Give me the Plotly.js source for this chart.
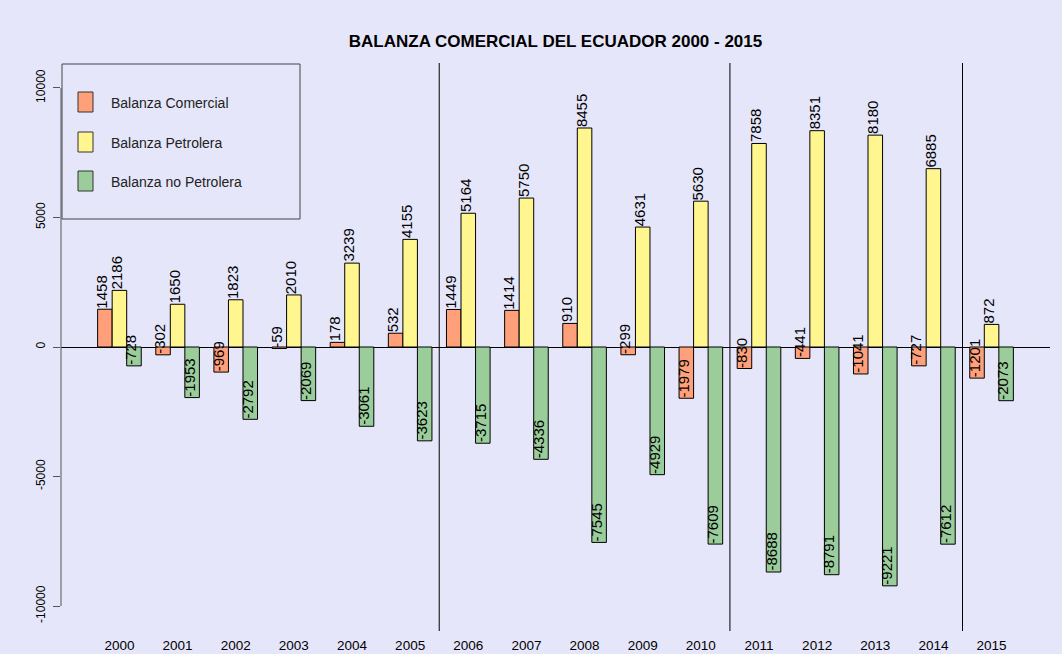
<!DOCTYPE html>
<html>
<head>
<meta charset="utf-8">
<script src="https://cdn.plot.ly/plotly-3.0.1.min.js"></script>
<style>
  html, body { margin: 0; padding: 0; background: #E6E6FA; }
  #chart { width: 1062px; height: 654px; }
</style>
</head>
<body>
<div id="chart"></div>
<script>
// ---- Data ----
const years = [2000, 2001, 2002, 2003, 2004, 2005, 2006, 2007, 2008, 2009, 2010, 2011, 2012, 2013, 2014, 2015];
const tickLabels = ['2000', '2001', '2002', '2003', '2004', '2005', '2006', '2007', '2008', '2009', '2010', '2011', '2012', '2013', '2014', '2015'];
const balanzaComercial = [1458, -302, -969, -59, 178, 532, 1449, 1414, 910, -299, -1979, -830, -441, -1041, -727, -1201];
const balanzaPetrolera = [2186, 1650, 1823, 2010, 3239, 4155, 5164, 5750, 8455, 4631, 5630, 7858, 8351, 8180, 6885, 872];
const balanzaNoPetrolera = [-728, -1953, -2792, -2069, -3061, -3623, -3715, -4336, -7545, -4929, -7609, -8688, -8791, -9221, -7612, -2073];
const seriesNames = ['Balanza Comercial', 'Balanza Petrolera', 'Balanza no Petrolera'];
const dividerYears = [2005.5, 2010.5, 2014.5];
const yTicks = [-10000, -5000, 0, 5000, 10000];
const chartTitle = 'BALANZA COMERCIAL DEL ECUADOR 2000 - 2015';

// ---- Styles ----
const colors = ['#FFA07A', '#FFF68F', '#9BCD9B'];
const FONT = 'Liberation Sans, Arial, sans-serif';
const BG = '#E6E6FA';
const seriesValues = [balanzaComercial, balanzaPetrolera, balanzaNoPetrolera];

const traces = seriesValues.map((vals, i) => ({
  type: 'bar',
  name: seriesNames[i],
  x: years,
  y: vals,
  marker: { color: colors[i], line: { color: '#000000', width: 1 } },
  showlegend: false,
  hoverinfo: 'skip'
}));

// value labels (rotated, starting at the bar end)
const barOffsets = [-0.25, 0, 0.25];
const annotations = [];
seriesValues.forEach((vals, i) => {
  vals.forEach((v, k) => {
    annotations.push({
      x: years[k] + barOffsets[i], y: v, xref: 'x', yref: 'y',
      text: String(v), showarrow: false, textangle: -90,
      xanchor: 'center', yanchor: 'bottom', xshift: -3, yshift: -1,
      font: { family: FONT, size: 15, color: '#000000' }
    });
  });
});

// custom legend (R-style)
const plotL = 61, plotR = 1050, plotT = 63, plotB = 631;
const px = p => (p - plotL) / (plotR - plotL);
const py = p => (plotB - p) / (plotB - plotT);
const shapes = [];
shapes.push({ type: 'rect', xref: 'paper', yref: 'paper', x0: px(62), x1: px(300), y0: py(219), y1: py(64),
  line: { color: '#444444', width: 1 }, fillcolor: 'rgba(0,0,0,0)' });
const swatchTops = [92, 132, 171];
seriesNames.forEach((n, i) => {
  shapes.push({ type: 'rect', xref: 'paper', yref: 'paper', x0: px(78), x1: px(93), y0: py(swatchTops[i] + 20), y1: py(swatchTops[i]),
    line: { color: '#333333', width: 1 }, fillcolor: colors[i] });
  annotations.push({ xref: 'paper', yref: 'paper', x: px(109), y: py(swatchTops[i] + 11), text: n, showarrow: false,
    xanchor: 'left', yanchor: 'middle', font: { family: FONT, size: 14, color: '#222222' } });
});

// vertical dividers
dividerYears.forEach(d => {
  shapes.push({ type: 'line', xref: 'x', yref: 'paper', x0: d, x1: d, y0: 0, y1: 1, line: { color: '#000000', width: 1 } });
});
// y axis line (spans only the tick range, as in R)
shapes.push({ type: 'line', xref: 'paper', yref: 'y', x0: 0, x1: 0, y0: yTicks[0], y1: yTicks[yTicks.length - 1],
  line: { color: '#555555', width: 1 } });

const layout = {
  width: 1062, height: 654,
  paper_bgcolor: BG, plot_bgcolor: BG,
  margin: { l: plotL, r: 1062 - plotR, t: plotT, b: 654 - plotB, pad: 0 },
  barmode: 'group', bargap: 0.25, bargroupgap: 0,
  showlegend: false,
  title: { text: '<b>' + chartTitle + '</b>', font: { family: FONT, size: 17, color: '#000000' },
    x: 0.5, xref: 'paper', y: 1 - 41 / 654, yref: 'container', yanchor: 'middle' },
  xaxis: {
    type: 'linear', range: [1998.995, 2016.005], tickmode: 'array', tickvals: years, ticktext: tickLabels,
    showgrid: false, zeroline: false, showline: false, ticks: '', ticklabelstandoff: 4,
    tickfont: { family: FONT, size: 13.5, color: '#000000' }, fixedrange: true
  },
  yaxis: {
    range: [-10965, 10965], tickmode: 'array', tickvals: yTicks, ticktext: yTicks.map(String),
    showgrid: false, showline: false, zeroline: true, zerolinecolor: '#000000', zerolinewidth: 1,
    ticks: 'outside', ticklen: 7, tickcolor: '#555555', tickangle: -90, ticklabelstandoff: 3,
    tickfont: { family: FONT, size: 12, color: '#000000' }, fixedrange: true
  },
  shapes: shapes,
  annotations: annotations
};

Plotly.newPlot('chart', traces, layout, { displayModeBar: false, staticPlot: true });
</script>
</body>
</html>
